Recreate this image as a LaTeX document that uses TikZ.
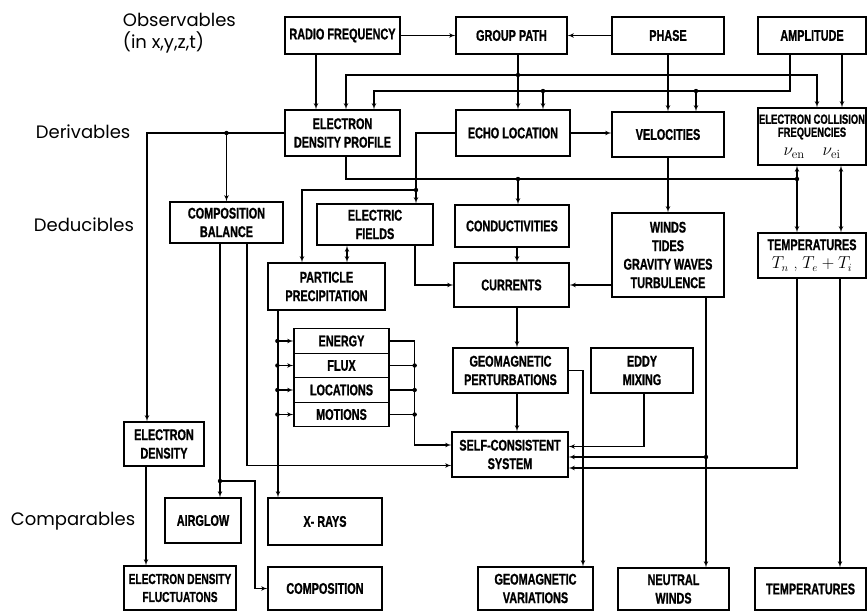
\documentclass[tikz,border=0pt]{standalone}
\usepackage{fontspec}
\newfontfamily\boxfont[FakeStretch=0.7,BoldFeatures={FakeBold=1}]{Liberation Sans}
\newfontfamily\levelfont{Poppins}
\usetikzlibrary{arrows,positioning}

\tikzset{
  blk/.style={draw, line width=1.3pt, align=center, inner sep=1pt,
    font=\boxfont\bfseries\fontsize{15.5}{18.5}\selectfont},
  smallblk/.style={blk, font=\boxfont\bfseries\fontsize{13.5}{13}\selectfont},
  rowlabel/.style={anchor=west, align=left, font=\levelfont\fontsize{18}{22}\selectfont}
}

\begin{document}
\begin{tikzpicture}[x=1pt,y=-1pt,>=latex',line width=1.1pt]
    \useasboundingbox (0,0) rectangle (868,612);
    %%%%%%%%% levels
    \node (obs) [rowlabel] at (119,33) {Observables\\ (in x,y,z,t)};
    \node (der) [rowlabel] at (32,132) {Derivables};
    \node (ded) [rowlabel] at (30,225) {Deducibles};
    \node (cmp) [rowlabel] at (7,521) {Comparables};
    %%%%%%%%% observables
    \node (rf) [blk, minimum width=115pt, minimum height=37pt] at (342.5,35.5) {RADIO FREQUENCY};
    \node (gp) [blk, minimum width=111pt, minimum height=37pt] at (511.5,35.5) {GROUP PATH};
    \node (phase) [blk, minimum width=112pt, minimum height=37pt] at (668,35.5) {PHASE};
    \node (amp) [blk, minimum width=108pt, minimum height=37pt] at (812,35.5) {AMPLITUDE};
    %%%%%%%%% derivables
    \node (edp) [blk, minimum width=115pt, minimum height=46pt] at (342.5,133) {ELECTRON\\DENSITY PROFILE};
    \node (echo) [blk, minimum width=114pt, minimum height=46pt] at (513,133) {ECHO LOCATION};
    \node (vel) [blk, minimum width=112pt, minimum height=45pt] at (668,134.5) {VELOCITIES};
    \node (ecf) [smallblk, minimum width=108pt, minimum height=57pt] at (812,136.5) {ELECTRON COLLISION\\FREQUENCIES\\[6pt]
      \normalfont\fontsize{18}{18}\selectfont$\nu_{\mathrm{en}}$\quad$\nu_{\mathrm{ei}}$};
    %%%%%%%%% deducibles
    \node (cb) [blk, minimum width=113pt, minimum height=41pt] at (226.5,222.5) {COMPOSITION\\BALANCE};
    \node (ef) [blk, minimum width=116pt, minimum height=41pt] at (375,224.5) {ELECTRIC\\FIELDS};
    \node (cond) [blk, minimum width=114pt, minimum height=42pt] at (512,226) {CONDUCTIVITIES};
    \node (winds) [blk, minimum width=112pt, minimum height=84pt] at (668,255) {WINDS\\TIDES\\GRAVITY WAVES\\TURBULENCE};
    \node (temp) [blk, minimum width=108pt, minimum height=45pt] at (812,255.5) {TEMPERATURES\\
      \normalfont\fontsize{16}{16}\selectfont$T_n$ , $T_e+T_i$};
    \node (pp) [blk, minimum width=117pt, minimum height=47pt] at (326.5,286.5) {PARTICLE\\PRECIPITATION};
    \node (curr) [blk, minimum width=115pt, minimum height=44pt] at (511.5,285) {CURRENTS};
    \node (energy) [blk, minimum width=95pt, minimum height=24.5pt] at (341.5,341) {ENERGY};
        \node (flux) [blk, minimum width=95pt, minimum height=24.5pt, below of=energy, node distance=24.5pt] {FLUX};
        \node (loc) [blk, minimum width=95pt, minimum height=24.5pt, below of=flux, node distance=24.5pt] {LOCATIONS};
        \node (mot) [blk, minimum width=95pt, minimum height=24.5pt, below of=loc, node distance=24.5pt] {MOTIONS};
    \node (gmp) [blk, minimum width=115pt, minimum height=45pt] at (510.5,370.5) {GEOMAGNETIC\\PERTURBATIONS};
    \node (eddy) [blk, minimum width=102pt, minimum height=45pt] at (642,370.5) {EDDY\\MIXING};
    \node (scs) [blk, minimum width=116pt, minimum height=45pt] at (510,454.5) {SELF-CONSISTENT\\SYSTEM};
    \node (ed) [blk, minimum width=80pt, minimum height=44pt] at (164,444) {ELECTRON\\DENSITY};
    %%%%%%%%% comparables
    \node (airglow) [blk, minimum width=76pt, minimum height=45pt] at (203,520.5) {AIRGLOW};
    \node (xrays) [blk, minimum width=114pt, minimum height=47pt] at (325,521.5) {X- RAYS};
    \node (edf) [smallblk, minimum width=112pt, minimum height=44pt, font=\boxfont\bfseries\fontsize{14.5}{18}\selectfont] at (180,588) {ELECTRON DENSITY\\FLUCTUATONS};
    \node (comp) [blk, minimum width=114pt, minimum height=43pt] at (325,588.5) {COMPOSITION};
    \node (gv) [blk, minimum width=115pt, minimum height=43pt] at (535.5,588.5) {GEOMAGNETIC\\VARIATIONS};
    \node (nw) [blk, minimum width=111pt, minimum height=42pt] at (673.5,589) {NEUTRAL\\WINDS};
    \node (tb) [blk, minimum width=111pt, minimum height=42pt] at (810.5,589) {TEMPERATURES};
    %%%%%%%%% junctions
    \coordinate (gpbus) at (518,75);
    \coordinate (ab1) at (543,91);
    \coordinate (ab2) at (696,91);
    \coordinate (efj) at (416,190);
    \coordinate (cj) at (518,179);
    \coordinate (tj) at (797,179);
    \coordinate (agj) at (220,481);
    \coordinate (wj) at (706,457);
    %%%%%%%%% observables to derivables
        \draw[->] (rf.east) -- (gp.west);
        \draw[->] (phase.west) -- (gp.east);
        \draw[->] ([xshift=-26.5pt]rf.south) -- ([xshift=-26.5pt]edp.north);
        \draw[->] ([xshift=6.5pt]gp.south) -- ([xshift=5pt]echo.north);
        \draw[->] (gpbus) -| ([xshift=3.5pt]edp.north);
        \draw[->] (gpbus) -| ([xshift=5pt]ecf.north);
        \draw ([xshift=-22pt]amp.south) |- (ab2) -- (ab1);
        \draw[->] (ab1) -| ([xshift=31.5pt]edp.north);
        \draw[->] (ab1) -- ([xshift=30pt]echo.north);
        \draw[->] (ab2) -- ([xshift=28pt]vel.north);
        \draw[->] ([xshift=30pt]amp.south) -- ([xshift=30pt]ecf.north);
        \draw[->] (phase.south) -- (vel.north);
    %%%%%%%%% derivables to deducibles
        \draw[->] (edp.west) -| ([xshift=-17pt]ed.north);
        \draw[->] (edp.west -| cb.north) -- (cb.north);
        \draw[->] (echo.east) -- (echo.east -| vel.west);
        \draw[->] (echo.west) -| ([xshift=41pt]ef.north);
        \draw[->] (efj) -| ([xshift=-24.5pt]pp.north);
        \draw ([xshift=3.5pt]edp.south) |- (tj);
        \draw[->] (cj) -- ([xshift=6pt]cond.north);
        \draw[<->] ([xshift=-15pt]ecf.south) -- ([xshift=-15pt]temp.north);
        \draw[<->] ([xshift=29pt]ecf.south) -- ([xshift=29pt]temp.north);
        \draw[->] (vel.south) -- (winds.north);
    %%%%%%%%% among deducibles
        \draw[->] ([xshift=-6.5pt]cb.south) -- ([xshift=17pt]airglow.north);
        \draw[->] (agj) -- ++(35,0) |- (comp.west);
        \draw[->] ([xshift=20.5pt]cb.south) |- ([yshift=-11pt]scs.west);
        \draw[<->] ([xshift=-28pt]ef.south) -- ([xshift=20.5pt]pp.north);
        \draw[->] ([xshift=40pt]ef.south) |- (curr.west);
        \draw[->] ([xshift=5pt]cond.south) -- ([xshift=5.5pt]curr.north);
        \draw[->] ([yshift=-30pt]winds.west) -- (winds.west |- curr.east) -- (curr.east);
        \draw[->] ([xshift=5.5pt]curr.south) -- ([xshift=6.5pt]gmp.north);
        \draw[->] ([xshift=-48.5pt]pp.south) -- ([xshift=-47pt]xrays.north);
        \foreach \r in {energy,flux,loc,mot} {
            \draw[->] ([xshift=-16pt]\r.west) -- (\r.west);
            \fill ([xshift=-16pt]\r.west) circle (2.2pt);
        }
        \foreach \r in {flux,loc,mot} {
            \draw (\r.east) -- ++(25,0);
            \fill ([xshift=25pt]\r.east) circle (2.2pt);
        }
        \draw[->] (energy.east) -- ++(25,0) |- ([yshift=9.5pt]scs.west);
        \draw[->] ([xshift=6.5pt]gmp.south) -- ([xshift=7pt]scs.north);
        \draw[->] (gmp.east) -| ([xshift=47.5pt]gv.north);
        \draw[->] ([xshift=2pt]eddy.south) |- ([yshift=8pt]scs.east);
        \draw[->] ([xshift=38pt]winds.south) -- ([xshift=32.5pt]nw.north);
        \draw[->] (wj) -- (wj -| scs.east);
        \draw[->] ([xshift=-15pt]temp.south) |- ([yshift=-13.5pt]scs.east);
        \draw[->] ([xshift=28pt]temp.south) -- ([xshift=29.5pt]tb.north);
        \draw[->] ([xshift=-18pt]ed.south) -- ([xshift=-34pt]edf.north);
    %%%%%%%%% dots
        \foreach \j in {gpbus,ab1,ab2,efj,cj,tj,agj,wj}
            \fill (\j) circle (2.2pt);
        \fill (edp.west -| cb.north) circle (2.2pt);
\end{tikzpicture}
\end{document}
